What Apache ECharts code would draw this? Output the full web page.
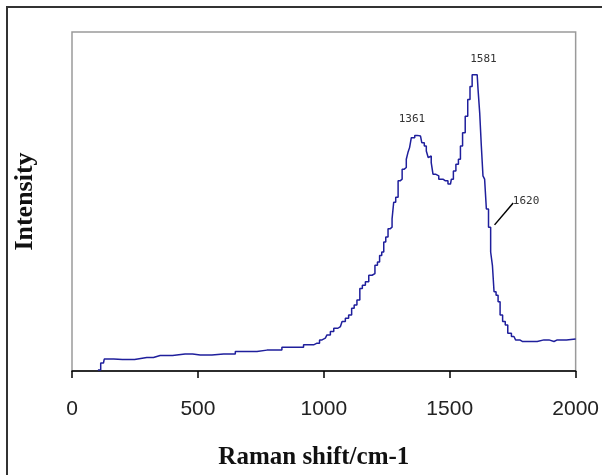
<!DOCTYPE html>
<html>
<head>
<meta charset="utf-8">
<script src="https://cdn.jsdelivr.net/npm/echarts@6/dist/echarts.min.js"></script>
<style>
html,body{margin:0;padding:0;background:#fff;}
#chart{width:602px;height:475px;}
</style>
</head>
<body>
<div id="chart"></div>
<script>
// Raman shift (cm-1) and intensity (arbitrary units)
const ramanShift = [103,125,131,200,297,350,449,509,602,695,774,893,946,973,993,1006,1019,1033,1046,1066,1079,1092,1105,1116,1125,1138,1148,1158,1172,1185,1198,1208,1218,1225,1235,1241,1251,1259,1267,1275,1280,1291,1299,1307,1315,1324,1331,1337,1344,1351,1371,1384,1394,1404,1410,1419,1423,1430,1437,1450,1463,1483,1503,1510,1519,1530,1539,1546,1556,1567,1576,1585,1593,1609,1616,1622,1629,1635,1642,1649,1659,1666,1673,1679,1689,1695,1705,1715,1726,1735,1755,1768,1788,1821,1874,1914,1927,2000];
const intensity  = [1,8,12,11.5,13.5,15.5,17,16,17,19.5,21,24,26.3,28,31.3,33,36.3,39.7,43,44.7,49.7,53,56.3,63,66.3,71.3,83,86.3,89.7,96.3,98,106.3,109.7,116.3,119.7,129.7,134.7,143,144.7,153,169.7,174.7,191.3,193,203,204.7,213,219.7,224.7,234.7,237,236.3,229.7,226.3,221.3,214.7,216.3,209.7,198,196.3,193,191.3,188,193,201.3,208,213,226.3,239.7,256.3,273,286.3,298,298,283,259.7,226.3,196.3,193,163,144.7,119.7,106.3,79.7,76.3,69.7,56.3,49.7,46.3,38,34.7,31.3,29.7,29.7,31.3,29.7,31.3,32.3];
const xTicks = [0,500,1000,1500,2000];
const peakLabels = ['1361','1581','1620'];
const peakLabelX = [1350,1634,1803];
const peakLabelY = [253,314,171];
const leaderFrom = [1678,147];
const leaderTo = [1752,169];

const series = ramanShift.map((x,i)=>[x,intensity[i]]);
const chart = echarts.init(document.getElementById('chart'));
chart.setOption({
  animation:false,
  backgroundColor:'#fff',
  graphic:[{type:'rect',shape:{x:7,y:7,width:640,height:520},style:{fill:'none',stroke:'#333',lineWidth:2},silent:true}],
  grid:{left:72,top:32,right:26,bottom:102,show:true,borderColor:'#9a9a9a',borderWidth:1.5},
  xAxis:{type:'value',min:xTicks[0],max:xTicks[xTicks.length-1],interval:500,
    name:'Raman shift/cm-1',nameLocation:'middle',nameGap:74,
    nameTextStyle:{fontFamily:'Liberation Serif',fontWeight:'bold',fontSize:25,color:'#111',padding:[0,20,0,0]},
    axisLine:{show:true,lineStyle:{color:'#000',width:1.5}},
    axisTick:{show:true,length:7,lineStyle:{color:'#000',width:1.5}},
    axisLabel:{fontFamily:'Liberation Sans',fontSize:21,color:'#222',margin:28,formatter:v=>String(v)},
    splitLine:{show:false}},
  yAxis:{type:'value',min:0,max:341,
    name:'Intensity',nameLocation:'middle',nameGap:34,
    nameTextStyle:{fontFamily:'Liberation Serif',fontWeight:'bold',fontSize:26,color:'#111'},
    axisLine:{show:false},axisTick:{show:false},axisLabel:{show:false},splitLine:{show:false}},
  series:[{type:'line',data:series,step:'middle',showSymbol:false,symbol:'none',
    lineStyle:{color:'#1f1f9c',width:1.5},
    markPoint:{symbol:'circle',symbolSize:0,silent:true,
      label:{show:true,position:'inside',fontFamily:'DejaVu Sans Mono',fontSize:11,color:'#333',formatter:p=>p.name},
      data:peakLabels.map((t,i)=>({name:t,coord:[peakLabelX[i],peakLabelY[i]]}))},
    markLine:{silent:true,symbol:['none','none'],label:{show:false},
      lineStyle:{color:'#000',width:1.5,type:'solid'},
      data:[[{coord:leaderFrom},{coord:leaderTo}]]}
  }]
});
</script>
</body>
</html>
